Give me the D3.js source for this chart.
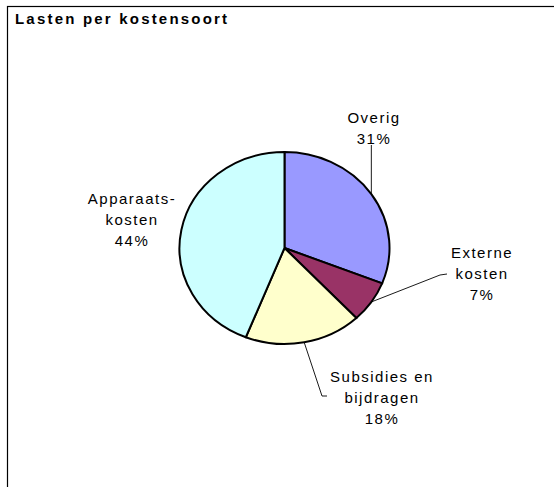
<!DOCTYPE html>
<html>
<head>
<script src="https://d3js.org/d3.v7.min.js"></script>
<style>
  body { margin: 0; background: #fff; }
  svg { display: block; }
  text { font-family: "Liberation Sans", Arial, sans-serif; fill: #000; }
</style>
</head>
<body>
<svg id="chart" width="554" height="487"></svg>
<script>
const categories = ["Overig", "Externe kosten", "Subsidies en bijdragen", "Apparaatskosten"];
const values = [31, 7, 18, 44];
const colors = ["#9999ff", "#993366", "#ffffcc", "#ccffff"];
// label lines as printed in the chart
const labelLines = [["Overig", "31%"], ["Externe", "kosten", "7%"], ["Subsidies en", "bijdragen", "18%"], ["Apparaats-", "kosten", "44%"]];
const labelPos = [[374, 123], [482, 258], [382, 382], [132, 204]];

const svg = d3.select("#chart");

// frame (right and bottom edges fall outside the picture)
svg.append("rect")
   .attr("x", 7.5).attr("y", 6.5)
   .attr("width", 560).attr("height", 500)
   .attr("fill", "none").attr("stroke", "#000").attr("stroke-width", 1.2);

svg.append("text")
   .attr("x", 15).attr("y", 24)
   .attr("font-size", 15).attr("font-weight", "bold")
   .attr("letter-spacing", 2.2)
   .text("Lasten per kostensoort");

const cx = 284.5, cy = 248, rx = 105, ry = 96;

const pie = d3.pie().sort(null).value(d => d);
const arcs = pie(values);
const arc = d3.arc().innerRadius(0).outerRadius(rx);

const g = svg.append("g").attr("transform", `translate(${cx},${cy}) scale(1,${ry / rx})`);
g.selectAll("path").data(arcs).join("path")
  .attr("d", arc)
  .attr("fill", (d, i) => colors[i])
  .attr("stroke", "#000")
  .attr("stroke-width", 2)
  .attr("vector-effect", "non-scaling-stroke");

// point on pie edge at the middle of a slice
const mid = d => (d.startAngle + d.endAngle) / 2;
const edge = a => [cx + rx * Math.sin(a), cy - ry * Math.cos(a)];

// leader lines from slice edge to label
const p0 = edge(mid(arcs[0])), p1 = edge(mid(arcs[1])), p2 = edge(mid(arcs[2]));
const leaders = [
  [p0, [p0[0], 145]],
  [p1, [440, 275], [447, 274]],
  [p2, [322, 396], [327, 396]]
];
svg.selectAll("path.leader").data(leaders).join("path")
  .attr("class", "leader")
  .attr("d", d => d3.line()(d))
  .attr("fill", "none").attr("stroke", "#000").attr("stroke-width", 0.9);

svg.selectAll("g.lbl").data(labelLines).join("g")
  .attr("class", "lbl")
  .each(function (lines, i) {
    const t = d3.select(this).append("text")
      .attr("text-anchor", "middle")
      .attr("font-size", 15)
      .attr("letter-spacing", 1.5);
    lines.forEach((s, j) => {
      t.append("tspan").attr("x", labelPos[i][0]).attr("y", labelPos[i][1] + j * 21).text(s);
    });
  });
</script>
</body>
</html>
